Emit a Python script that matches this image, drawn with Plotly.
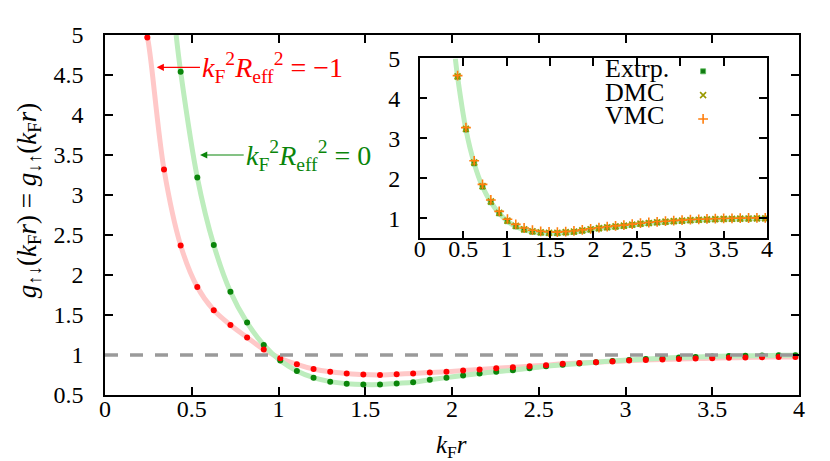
import plotly.graph_objects as go

# shared k_F r grid of the QMC points
kfr = [0.244, 0.340, 0.436, 0.532, 0.627, 0.723, 0.819, 0.915, 1.010, 1.106,
       1.202, 1.298, 1.393, 1.489, 1.585, 1.681, 1.776, 1.872, 1.968, 2.064,
       2.159, 2.255, 2.351, 2.447, 2.542, 2.638, 2.734, 2.830, 2.925, 3.021,
       3.117, 3.213, 3.308, 3.404, 3.500, 3.596, 3.691, 3.787, 3.883, 3.979]

# k_F^2 R_eff^2 = -1 (red)
g_m1 = [4.97, 3.32, 2.37, 1.85, 1.56, 1.375, 1.22, 1.07, 0.96, 0.884,
        0.825, 0.79, 0.77, 0.755, 0.75, 0.76, 0.77, 0.78, 0.79, 0.805,
        0.82, 0.834, 0.846, 0.86, 0.872, 0.89, 0.90, 0.91, 0.92, 0.93,
        0.937, 0.945, 0.95, 0.955, 0.96, 0.965, 0.968, 0.972, 0.975, 0.976]

# k_F^2 R_eff^2 = 0 (green), starts at the third grid point
kfr0 = kfr[2:]
g_0 = [4.54, 3.22, 2.375, 1.79, 1.405, 1.125, 0.93, 0.80, 0.717, 0.667,
       0.642, 0.63, 0.63, 0.645, 0.66, 0.69, 0.717, 0.745, 0.77, 0.79,
       0.81, 0.835, 0.86, 0.878, 0.895, 0.91, 0.925, 0.937, 0.95, 0.96,
       0.968, 0.975, 0.982, 0.986, 0.99, 0.993, 0.996, 0.998]

# where the smooth curves leave the frame
curve_m1_x = [0.236] + kfr + [4.0]
curve_m1_y = [5.0] + g_m1 + [0.977]
curve_0_x = [0.41] + kfr0 + [4.0]
curve_0_y = [5.0] + g_0 + [1.0]

# inset: estimators at k_F^2 R_eff^2 = 0
g_extrp = g_0
g_dmc = [4.55, 3.24, 2.40, 1.81, 1.425, 1.14, 0.945, 0.815, 0.73, 0.68,
         0.655, 0.642, 0.642, 0.656, 0.672, 0.70, 0.728, 0.756, 0.78, 0.80,
         0.82, 0.845, 0.868, 0.886, 0.903, 0.918, 0.932, 0.944, 0.956, 0.966,
         0.974, 0.981, 0.987, 0.991, 0.995, 0.998, 1.0, 1.002]
g_vmc = [4.57, 3.27, 2.44, 1.85, 1.46, 1.175, 0.98, 0.85, 0.76, 0.705,
         0.675, 0.66, 0.658, 0.67, 0.686, 0.713, 0.74, 0.768, 0.792, 0.812,
         0.832, 0.856, 0.88, 0.898, 0.915, 0.93, 0.945, 0.957, 0.969, 0.978,
         0.986, 0.993, 0.999, 1.003, 1.007, 1.01, 1.012, 1.014]

FONT = "Liberation Serif, Times New Roman, serif"
RED = "#ff0000"
GREEN = "#0a850a"
PINK = "#ffc8c8"
LGREEN = "#bdedbd"

# pixel -> paper helpers (plot area 97..791 x 26.7..386.7)
def px(x):
    return (x - 97) / 694

def py(y):
    return (386.7 - y) / 360

fig = go.Figure()

# main panel
fig.add_trace(go.Scatter(x=curve_m1_x, y=curve_m1_y, mode="lines", line=dict(color=PINK, width=5, shape="spline"),
                         showlegend=False, hoverinfo="skip"))
fig.add_trace(go.Scatter(x=curve_0_x, y=curve_0_y, mode="lines", line=dict(color=LGREEN, width=5, shape="spline"),
                         showlegend=False, hoverinfo="skip"))
fig.add_trace(go.Scatter(x=kfr0, y=g_0, mode="markers", marker=dict(color=GREEN, size=6),
                         showlegend=False))
fig.add_trace(go.Scatter(x=kfr, y=g_m1, mode="markers", marker=dict(color=RED, size=6),
                         showlegend=False))

# inset
fig.add_trace(go.Scatter(x=curve_0_x, y=curve_0_y, mode="lines", line=dict(color=LGREEN, width=5, shape="spline"),
                         xaxis="x2", yaxis="y2", showlegend=False, hoverinfo="skip"))
fig.add_trace(go.Scatter(x=kfr0, y=g_extrp, mode="markers", name=" ", xaxis="x2", yaxis="y2",
                         marker=dict(symbol="square", color="#117a11", size=5,
                                     line=dict(color="#5cbf5c", width=0.8))))
fig.add_trace(go.Scatter(x=kfr0, y=g_dmc, mode="markers", name="  ", xaxis="x2", yaxis="y2",
                         marker=dict(symbol="x-thin", color="#9a9a00", size=6,
                                     line=dict(color="#9a9a00", width=1.6))))
fig.add_trace(go.Scatter(x=kfr0, y=g_vmc, mode="markers", name="   ", xaxis="x2", yaxis="y2",
                         marker=dict(symbol="cross-thin", color="#ff7f0e", size=7,
                                     line=dict(color="#ff7f0e", width=1.6))))

axis_style = dict(showgrid=False, zeroline=False, showline=True, linecolor="black", linewidth=1.5,
                  ticks="inside", ticklen=8, tickwidth=1.5, tickcolor="black", mirror="ticks",
                  tickfont=dict(family=FONT, size=24, color="black"))

fig.update_layout(
    width=830, height=461,
    margin=dict(l=97, r=39, t=27, b=74),
    paper_bgcolor="white", plot_bgcolor="white",
    font=dict(family=FONT, size=22, color="black"),
    xaxis=dict(range=[0, 4], tick0=0, dtick=0.5, ticklabelstandoff=-9, **axis_style),
    yaxis=dict(range=[0.5, 5], tick0=0.5, dtick=0.5, ticklabelstandoff=15, **axis_style),
    xaxis2=dict(domain=[0.4535, 0.954], anchor="y2", range=[0, 4], tick0=0, dtick=0.5,
                ticklabelstandoff=-12, **axis_style),
    yaxis2=dict(domain=[0.435, 0.935], anchor="x2", range=[0.5, 5], tick0=0, dtick=1,
                ticklabelstandoff=13, **axis_style),
    showlegend=True,
    legend=dict(x=0.833, y=0.946, xanchor="left", yanchor="top", bgcolor="rgba(0,0,0,0)",
                font=dict(family=FONT, size=16), itemwidth=30, tracegroupgap=0),
)

# g = 1 reference
fig.add_shape(type="line", x0=0, x1=4, y0=1, y1=1, xref="x", yref="y",
              line=dict(color="#9a9a9a", width=3.5, dash="13px,12px"))

# labels with arrows
fig.add_annotation(x=0.298, y=4.596, ax=0.556, ay=4.596, xref="x", yref="y", axref="x", ayref="y",
                   text="", showarrow=True, arrowhead=2, arrowsize=1.2, arrowwidth=1.2, arrowcolor=RED)
fig.add_annotation(x=0.55, y=4.596, xref="x", yref="y", xanchor="left", yanchor="middle", showarrow=False,
                   text="<i>k</i><sub>F</sub><sup>2</sup><i>R</i><sub>eff</sub><sup>2</sup> = −1",
                   font=dict(family=FONT, size=28, color=RED))
fig.add_annotation(x=0.548, y=3.5, ax=0.808, ay=3.5, xref="x", yref="y", axref="x", ayref="y",
                   text="", showarrow=True, arrowhead=2, arrowsize=1.2, arrowwidth=1.2, arrowcolor=GREEN)
fig.add_annotation(x=0.80, y=3.5, xref="x", yref="y", xanchor="left", yanchor="middle", showarrow=False,
                   text="<i>k</i><sub>F</sub><sup>2</sup><i>R</i><sub>eff</sub><sup>2</sup> = 0",
                   font=dict(family=FONT, size=28, color=GREEN))

# legend texts (gnuplot-style: text left of the symbol)
for label, ypos in [("Extrp.", 60), ("DMC", 84), ("VMC", 107)]:
    fig.add_annotation(x=px(595), y=py(ypos), xref="paper", yref="paper",
                       xanchor="left", yanchor="middle", showarrow=False, text=label,
                       font=dict(family=FONT, size=26, color="black"))

# axis titles
fig.add_annotation(x=px(443), y=py(438), xref="paper", yref="paper", xanchor="center", yanchor="middle",
                   showarrow=False, text="<i>k</i><sub>F</sub><i>r</i>",
                   font=dict(family=FONT, size=25))
fig.add_annotation(x=px(21), y=py(192), xref="paper", yref="paper", xanchor="center", yanchor="middle",
                   showarrow=False, textangle=-90,
                   text="<i>g</i><sub>↑↓</sub>(<i>k</i><sub>F</sub><i>r</i>) = <i>g</i><sub>↓↑</sub>(<i>k</i><sub>F</sub><i>r</i>)",
                   font=dict(family=FONT, size=27))

fig.write_html("out.html")
